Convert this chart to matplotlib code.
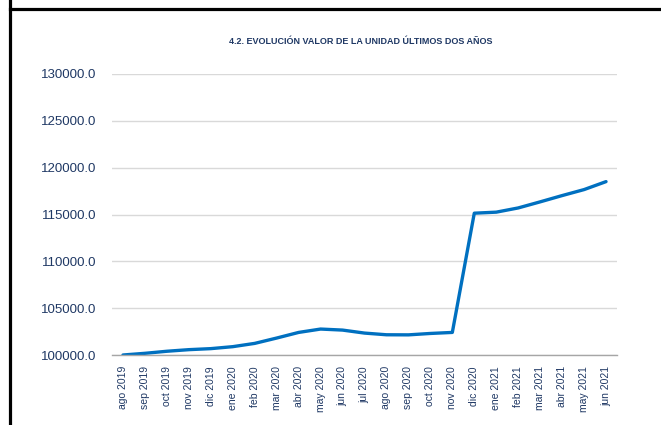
import matplotlib
matplotlib.use("Agg")
import matplotlib.pyplot as plt
from matplotlib.lines import Line2D

meses = ["ago 2019", "sep 2019", "oct 2019", "nov 2019", "dic 2019",
         "ene 2020", "feb 2020", "mar 2020", "abr 2020", "may 2020",
         "jun 2020", "jul 2020", "ago 2020", "sep 2020", "oct 2020",
         "nov 2020", "dic 2020", "ene 2021", "feb 2021", "mar 2021",
         "abr 2021", "may 2021", "jun 2021"]
valor = [100000, 100180, 100400, 100570, 100680,
         100890, 101240, 101810, 102410, 102770,
         102660, 102340, 102160, 102150, 102300,
         102410, 115140, 115250, 115700, 116350,
         117020, 117660, 118510]
yticks = [100000, 105000, 110000, 115000, 120000, 125000, 130000]

navy = "#1F3864"
plt.rcParams['font.family'] = ['Liberation Sans', 'DejaVu Sans']

fig = plt.figure(figsize=(6.61, 4.25), dpi=100)
ax = fig.add_axes([112/661, 1-355/425, (617-112)/661, (355-74)/425])

x = list(range(len(meses)))
ax.plot(x, valor, color="#0070C0", lw=2.4, solid_capstyle='round')

ax.set_xlim(-0.5, len(meses)-0.5)
ax.set_ylim(100000, 130000)
ax.set_yticks(yticks)
ax.set_yticklabels([f"{v:.1f}" for v in yticks], fontsize=9.5, color=navy)
ax.set_xticks(x)
ax.set_xticklabels(meses, rotation=90, fontsize=7.5, color=navy)
ax.tick_params(axis='y', length=0, pad=11)
ax.tick_params(axis='x', length=0, pad=8)
ax.grid(axis='y', color="#D9D9D9", lw=1)
ax.set_axisbelow(True)
for s in ['top', 'right', 'left']:
    ax.spines[s].set_visible(False)
ax.spines['bottom'].set_color("#A6A6A6")
ax.spines['bottom'].set_linewidth(1)

fig.text(361/661, 1-41/425, "4.2. EVOLUCIÓN VALOR DE LA UNIDAD ÚLTIMOS DOS AÑOS",
         ha='center', va='center', fontsize=6.5, fontweight='bold', color=navy)

# marco negro
fig.add_artist(Line2D([9.5/661, 9.5/661], [0, 1], color='black', lw=2.3))
fig.add_artist(Line2D([9.5/661, 1], [1-8.5/425, 1-8.5/425], color='black', lw=2.3))

fig.savefig("out.png", dpi=100)
